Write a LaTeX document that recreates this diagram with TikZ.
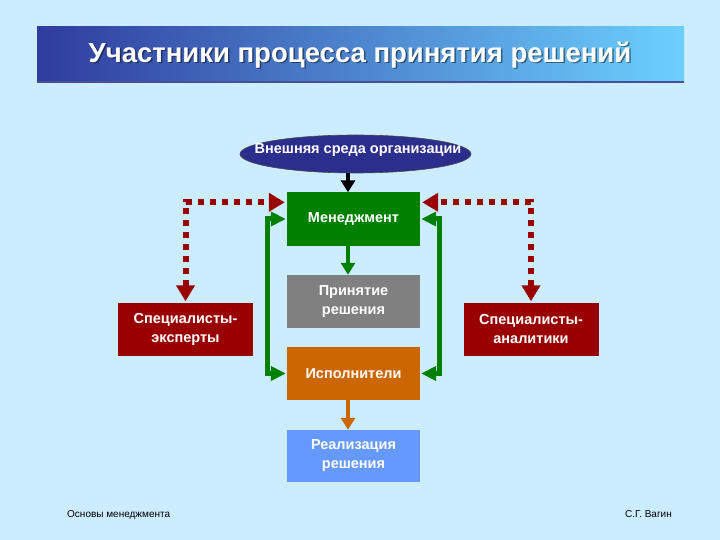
\documentclass[tikz,border=0pt]{standalone}
\usepackage{fontspec}
\setmainfont{Liberation Sans}
\usetikzlibrary{arrows.meta,shapes.geometric,calc}
\definecolor{bg}{HTML}{CCECFF}
\definecolor{tdark}{HTML}{2F3C9E}
\definecolor{tmid}{HTML}{4C90D8}
\definecolor{tlight}{HTML}{6CD0FF}
\definecolor{navy}{HTML}{2B2E8C}
\definecolor{mgreen}{HTML}{008000}
\definecolor{mgray}{HTML}{808080}
\definecolor{mred}{HTML}{990000}
\definecolor{morange}{HTML}{CC6600}
\definecolor{mblue}{HTML}{6699FF}
\begin{document}
\begin{tikzpicture}[x=1pt,y=-1pt,
  box/.style={rectangle, minimum width=133pt, minimum height=53pt, inner sep=0pt,
    align=center, text=white, font=\bfseries\fontsize{14.5}{19}\selectfont},
  greenlink/.style={draw=mgreen, line width=5pt,
    {Triangle[width=14pt,length=15pt]}-{Triangle[width=14pt,length=15pt]}},
  reddot/.style={draw=mred, line width=6pt, dash pattern=on 6pt off 6pt,
    {Triangle[width=18pt,length=16pt]}-{Triangle[width=18pt,length=16pt]}},
  downarrow/.style={line width=4pt, -{Triangle[width=14pt,length=12pt]}}
]
\fill[bg] (0,0) rectangle (720,540);
\useasboundingbox (0,0) rectangle (720,540);

% title bar
\shade[left color=tdark, middle color=tmid, right color=tlight] (37,27) rectangle (684,82);
\draw[color=tdark!70!gray, line width=1.5pt] (37,82) -- (684,82);
\node[font=\bfseries\fontsize{27.5}{30}\selectfont, text=black, opacity=0.45] (titleshadow) at (361.5,56.5) {Участники процесса принятия решений};
\node[font=\bfseries\fontsize{27.5}{30}\selectfont, text=white] (title) at (360,55) {Участники процесса принятия решений};

% nodes
\node[ellipse, minimum width=231pt, minimum height=38pt, inner sep=0pt, fill=navy, draw=black!70, line width=0.6pt] (env) at (355.5,154) {};
\node[text=white, font=\bfseries\fontsize{14.5}{15}\selectfont, inner sep=0pt] (envtext) at (358,150) {Внешняя среда организации};

\node[box, fill=mgreen] (mgmt) at (353.5,219) {Менеджмент};
\node[box, fill=mgray] (dec) at (353.5,301.5) {Принятие\\решения};
\node[box, fill=mred, minimum width=135pt] (exp) at (185.5,329) {Специалисты-\\эксперты};
\node[box, fill=mred, minimum width=135pt] (ana) at (531,329) {Специалисты-\\аналитики};
\node[box, fill=morange] (isp) at (353.5,373.5) {Исполнители};
\node[box, fill=mblue, minimum height=52pt] (real) at (353.5,456) {Реализация\\решения};

% connectors
\draw[downarrow, draw=black] ([xshift=-7.5pt]env.south) -- ([xshift=-5.5pt]mgmt.north);
\draw[downarrow, draw=mgreen] ([xshift=-5.5pt]mgmt.south) -- ([xshift=-5.5pt]dec.north);
\draw[downarrow, draw=morange] ([xshift=-5.5pt]isp.south) -- ([xshift=-5.5pt]real.north);

\draw[greenlink, shorten <=1pt, shorten >=1pt] (mgmt.west) -- ++(-19,0) |- (isp.west);
\draw[greenlink, shorten <=1pt, shorten >=1pt] (mgmt.east) -- ++(19,0) |- (isp.east);

\draw[reddot, shorten <=1pt, shorten >=2pt] (exp.north) |- ([yshift=-10pt]mgmt.north west);
\draw[reddot, shorten <=1pt, shorten >=2pt] (ana.north) |- ([yshift=-10pt]mgmt.north east);

% footer
\node[anchor=base west, font=\fontsize{10}{11}\selectfont, inner sep=0pt] (footl) at (67,517) {Основы менеджмента};
\node[anchor=base east, font=\fontsize{10}{11}\selectfont, inner sep=0pt] (footr) at (672,517) {С.Г. Вагин};
\end{tikzpicture}
\end{document}
